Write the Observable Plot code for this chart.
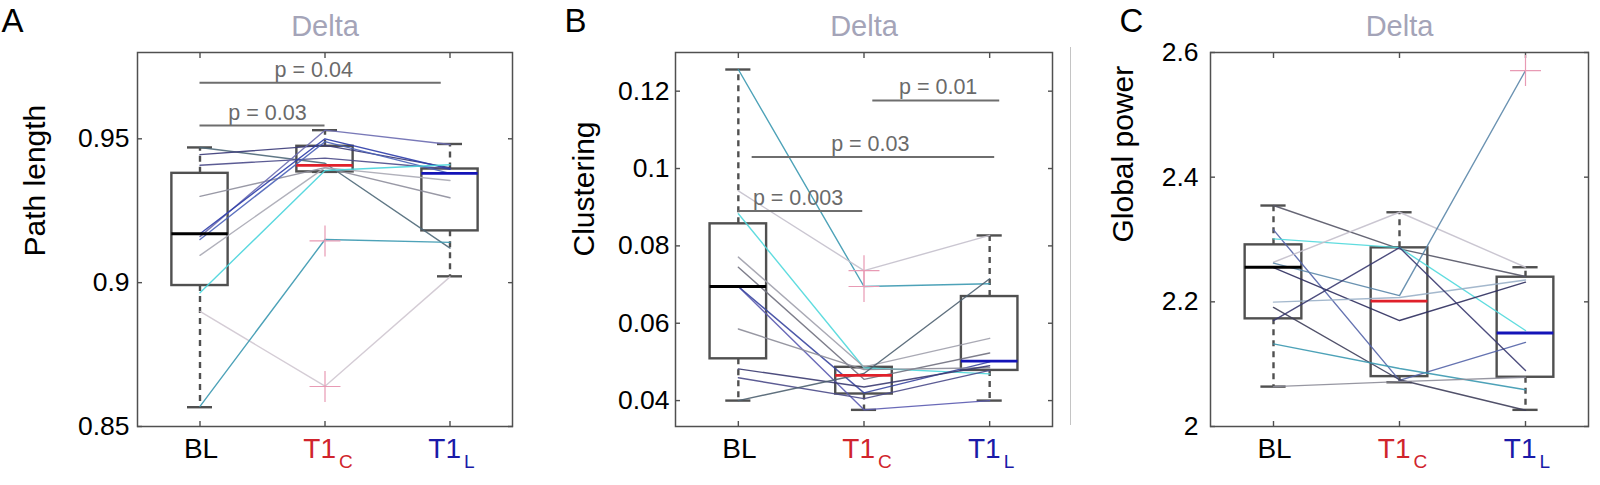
<!DOCTYPE html>
<html><head><meta charset="utf-8">
<script src="https://cdn.jsdelivr.net/npm/d3@7"></script>
<script src="https://cdn.jsdelivr.net/npm/@observablehq/plot@0.6"></script>
<style>
html,body{margin:0;padding:0;background:#fff;}
#wrap{position:relative;width:1600px;height:485px;display:flex;overflow:hidden;}
#wrap svg{display:block;max-width:none;flex:none;}
.sep{position:absolute;left:1070px;top:47px;width:1px;height:378px;background:#c4c4c4;}
</style></head><body><div id="wrap"><div class="sep"></div></div>
<script>
// ---------- categories ----------
const categories = ["BL", "T1C", "T1L"];
const catMain = ["BL", "T1", "T1"];
const catSub = ["", "C", "L"];
const labelColors = ["#000000", "#d0242c", "#1a1aa8"];
const medianColors = ["#000000", "#e0202a", "#1414b8"];

// ---------- Panel A: Path length ----------
const pathTicks = [0.85, 0.9, 0.95];
const pathBL  = [0.947, 0.9445, 0.9408, 0.930, 0.916, 0.917, 0.915, 0.9095, 0.8965, 0.890, 0.857];
const pathT1C = [0.9415, 0.9477, 0.9433, 0.940, 0.953, 0.950, 0.949, 0.940, 0.939, 0.864, 0.915];
const pathT1L = [0.912, 0.940, 0.9395, 0.9295, 0.948, 0.9395, 0.938, 0.9355, 0.941, 0.902, 0.914];
const pathColors = ["#4e6878","#3a3a78","#4a4a88","#8e8e9c","#6a6ab0","#2c3ca8","#4a62b8","#a8a8b4","#48d4dc","#cfc6d0","#3a98b0"];
const pathQ1  = [0.899, 0.9385, 0.918];
const pathMed = [0.917, 0.9408, 0.938];
const pathQ3  = [0.938, 0.9474, 0.9395];
const pathLo  = [0.8567, 0.9385, 0.9022];
const pathHi  = [0.947, 0.953, 0.9482];
const pathOutCat = [2, 2];
const pathOutVal = [0.9145, 0.8639];
const pathSigLabel = ["p = 0.04", "p = 0.03"];
const pathSigY  = [0.9695, 0.9546];
const pathSigX1 = [1, 1];
const pathSigX2 = [2.93, 2.0];
const pathSigTx = [1.91, 1.54];

// ---------- Panel B: Clustering ----------
const clustTicks = [0.04, 0.06, 0.08, 0.1, 0.12];
const clustBL  = [0.1256, 0.0942, 0.0883, 0.0771, 0.0745, 0.0695, 0.0695, 0.0585, 0.0482, 0.0459, 0.0400];
const clustT1C = [0.0695, 0.0736, 0.0485, 0.0487, 0.0455, 0.0376, 0.0420, 0.0480, 0.0435, 0.0405, 0.0470];
const clustT1L = [0.0702, 0.0827, 0.0469, 0.0561, 0.0523, 0.0400, 0.0500, 0.0485, 0.0490, 0.0478, 0.0715];
const clustColors = ["#3a98b0","#c4c0cc","#4fd8dc","#a0a0ac","#70707e","#5a5ab0","#3a46a0","#8c8c98","#3a3a70","#4a4a88","#4e6070"];
const clustQ1  = [0.0508, 0.0417, 0.0478];
const clustMed = [0.0695, 0.0465, 0.0502];
const clustQ3  = [0.0857, 0.0486, 0.0669];
const clustLo  = [0.0400, 0.0376, 0.0400];
const clustHi  = [0.1256, 0.0486, 0.0827];
const clustOutCat = [2, 2];
const clustOutVal = [0.0736, 0.0695];
const clustSigLabel = ["p = 0.01", "p = 0.03", "p = 0.003"];
const clustSigY  = [0.1176, 0.1030, 0.0890];
const clustSigX1 = [2.07, 1.11, 1.0];
const clustSigX2 = [3.08, 3.04, 1.99];
const clustSigTx = [2.59, 2.05, 1.475];

// ---------- Panel C: Global power ----------
const powerTicks = [2, 2.2, 2.4, 2.6];
const powerBL  = [2.3545, 2.3155, 2.301, 2.2635, 2.255, 2.262, 2.1995, 2.191, 2.17, 2.1326, 2.064];
const powerT1C = [2.285, 2.074, 2.287, 2.3437, 2.170, 2.21, 2.207, 2.075, 2.287, 2.093, 2.072];
const powerT1L = [2.2406, 2.135, 2.154, 2.2555, 2.2315, 2.571, 2.235, 2.026, 2.0898, 2.059, 2.079];
const powerColors = ["#555566","#5464a8","#4fd8dc","#c4c0cc","#2e2e5e","#5a86a8","#9ab0c8","#3e3e5a","#3a3a70","#3a98b0","#8c8c98"];
const powerQ1  = [2.1727, 2.080, 2.079];
const powerMed = [2.2555, 2.201, 2.150];
const powerQ3  = [2.2914, 2.2866, 2.2395];
const powerLo  = [2.064, 2.071, 2.0267];
const powerHi  = [2.3545, 2.3437, 2.2555];
const powerOutCat = [3];
const powerOutVal = [2.571];
const powerSigLabel = [];
const powerSigY = [], powerSigX1 = [], powerSigX2 = [], powerSigTx = [];

const FONT = "'Liberation Sans', Arial, Helvetica, sans-serif";
const GRAY = "#505050";
const blank = () => "";

function panel(p) {
  const pos = [1, 2, 3];
  const series = [p.bl, p.t1c, p.t1l];
  const rows = [];
  p.colors.forEach((c, s) => series.forEach((arr, k) => rows.push({s, x: pos[k], v: arr[s], color: c})));
  const boxes = pos.map((x, k) => ({
    x, q1: p.q1[k], med: p.med[k], q3: p.q3[k], lo: p.lo[k], hi: p.hi[k],
    medColor: medianColors[k], main: catMain[k], sub: catSub[k], labColor: labelColors[k], k
  }));
  const outl = p.outCat.map((c, i) => ({x: c, v: p.outVal[i]}));
  const sig = p.sigLabel.map((l, i) => ({label: l, y: p.sigY[i], x1: p.sigX1[i], x2: p.sigX2[i], tx: p.sigTx[i]}));
  const BW = 0.225, CW = 0.1;
  const tickStyle = {tickSize: -5, stroke: GRAY, strokeWidth: 1.4, tickFormat: blank, label: null};
  return Plot.plot({
    width: p.width, height: 485,
    marginLeft: p.ml, marginRight: p.mr, marginTop: 52, marginBottom: 59,
    style: {fontFamily: FONT, color: "#000", background: "white", overflow: "visible"},
    x: {domain: [0.5, 3.5], axis: null},
    y: {domain: p.domain, axis: null},
    marks: [
      Plot.frame({stroke: GRAY, strokeWidth: 1.5}),
      Plot.axisY(p.ticks, {anchor: "left", ...tickStyle}),
      Plot.axisY(p.ticks, {anchor: "right", ...tickStyle}),
      Plot.axisX(pos, {anchor: "bottom", ...tickStyle}),
      Plot.axisX(pos, {anchor: "top", ...tickStyle}),
      // y tick labels
      Plot.text(p.ticks, {y: d => d, text: d => String(d), frameAnchor: "left", textAnchor: "end", dx: -p.tickPad, fontSize: "26.5px", fill: "#000"}),
      // boxes
      Plot.rect(boxes, {x1: d => d.x - BW, x2: d => d.x + BW, y1: "q1", y2: "q3", fill: "none", stroke: GRAY, strokeWidth: 2.4}),
      Plot.ruleX(boxes, {x: "x", y1: "q3", y2: "hi", stroke: GRAY, strokeWidth: 2.4, strokeDasharray: "6,5"}),
      Plot.ruleX(boxes, {x: "x", y1: "q1", y2: "lo", stroke: GRAY, strokeWidth: 2.4, strokeDasharray: "6,5"}),
      Plot.ruleY(boxes, {y: "hi", x1: d => d.x - CW, x2: d => d.x + CW, stroke: GRAY, strokeWidth: 2.4}),
      Plot.ruleY(boxes, {y: "lo", x1: d => d.x - CW, x2: d => d.x + CW, stroke: GRAY, strokeWidth: 2.4}),
      // subject lines
      Plot.line(rows, {x: "x", y: "v", z: "s", stroke: "color", strokeWidth: 1.4, strokeOpacity: 0.9}),
      // medians
      Plot.ruleY(boxes, {y: "med", x1: d => d.x - BW, x2: d => d.x + BW, stroke: "medColor", strokeWidth: 2.8}),
      // outliers
      Plot.dot(outl, {x: "x", y: "v", symbol: "plus", r: 10, stroke: "#e89ab4", strokeWidth: 1.2}),
      // significance
      Plot.ruleY(sig, {y: "y", x1: "x1", x2: "x2", stroke: "#6e6e6e", strokeWidth: 2}),
      Plot.text(sig, {x: "tx", y: "y", text: "label", lineAnchor: "bottom", dy: -6, fill: "#6a6a6a", fontSize: "21.5px"}),
      // x labels
      Plot.text(boxes.filter(d => d.k === 0), {x: "x", text: "main", frameAnchor: "bottom", dy: 31, dx: 1, fill: "labColor", fontSize: "28px"}),
      Plot.text(boxes.filter(d => d.k > 0), {x: "x", text: "main", frameAnchor: "bottom", dy: 31, dx: 11, textAnchor: "end", fill: "labColor", fontSize: "28px"}),
      Plot.text(boxes.filter(d => d.k > 0), {x: "x", text: "sub", frameAnchor: "bottom", dy: 41, dx: 14, textAnchor: "start", fill: "labColor", fontSize: "19px"}),
      // y label
      Plot.text([p.ylabel], {text: d => d, frameAnchor: "left", rotate: -90, dx: p.labelDx, dy: p.labelDy, fontSize: "30px", fill: "#000"}),
      // title
      Plot.text(["Delta"], {text: d => d, frameAnchor: "top", lineAnchor: "top", dy: -37, fontSize: "29px", fill: "#a4a4b8"}),
      // panel letter
      Plot.text([p.letter], {text: d => d, frameAnchor: "top-left", lineAnchor: "top", textAnchor: "start", dx: p.letterDx, dy: -44, fontSize: "33px", fill: "#000"})
    ]
  });
}

const wrap = document.getElementById("wrap");
wrap.appendChild(panel({
  width: 540, ml: 137, mr: 28, domain: [0.85, 0.98], ticks: pathTicks, tickPad: 8,
  bl: pathBL, t1c: pathT1C, t1l: pathT1L, colors: pathColors,
  q1: pathQ1, med: pathMed, q3: pathQ3, lo: pathLo, hi: pathHi,
  outCat: pathOutCat, outVal: pathOutVal,
  sigLabel: pathSigLabel, sigY: pathSigY, sigX1: pathSigX1, sigX2: pathSigX2, sigTx: pathSigTx,
  ylabel: "Path length", labelDx: -102, labelDy: 17, letter: "A", letterDx: -136
}));
wrap.appendChild(panel({
  width: 530, ml: 135, mr: 18, domain: [0.0333, 0.13], ticks: clustTicks, tickPad: 6,
  bl: clustBL, t1c: clustT1C, t1l: clustT1L, colors: clustColors,
  q1: clustQ1, med: clustMed, q3: clustQ3, lo: clustLo, hi: clustHi,
  outCat: clustOutCat, outVal: clustOutVal,
  sigLabel: clustSigLabel, sigY: clustSigY, sigX1: clustSigX1, sigX2: clustSigX2, sigTx: clustSigTx,
  ylabel: "Clustering", labelDx: -91, labelDy: 17, letter: "B", letterDx: -111
}));
wrap.appendChild(panel({
  width: 530, ml: 140, mr: 12, domain: [2, 2.6], ticks: powerTicks, tickPad: 12,
  bl: powerBL, t1c: powerT1C, t1l: powerT1L, colors: powerColors,
  q1: powerQ1, med: powerMed, q3: powerQ3, lo: powerLo, hi: powerHi,
  outCat: powerOutCat, outVal: powerOutVal,
  sigLabel: powerSigLabel, sigY: powerSigY, sigX1: powerSigX1, sigX2: powerSigX2, sigTx: powerSigTx,
  ylabel: "Global power", labelDx: -87, labelDy: 3, letter: "C", letterDx: -91
}));
</script>
</body></html>
